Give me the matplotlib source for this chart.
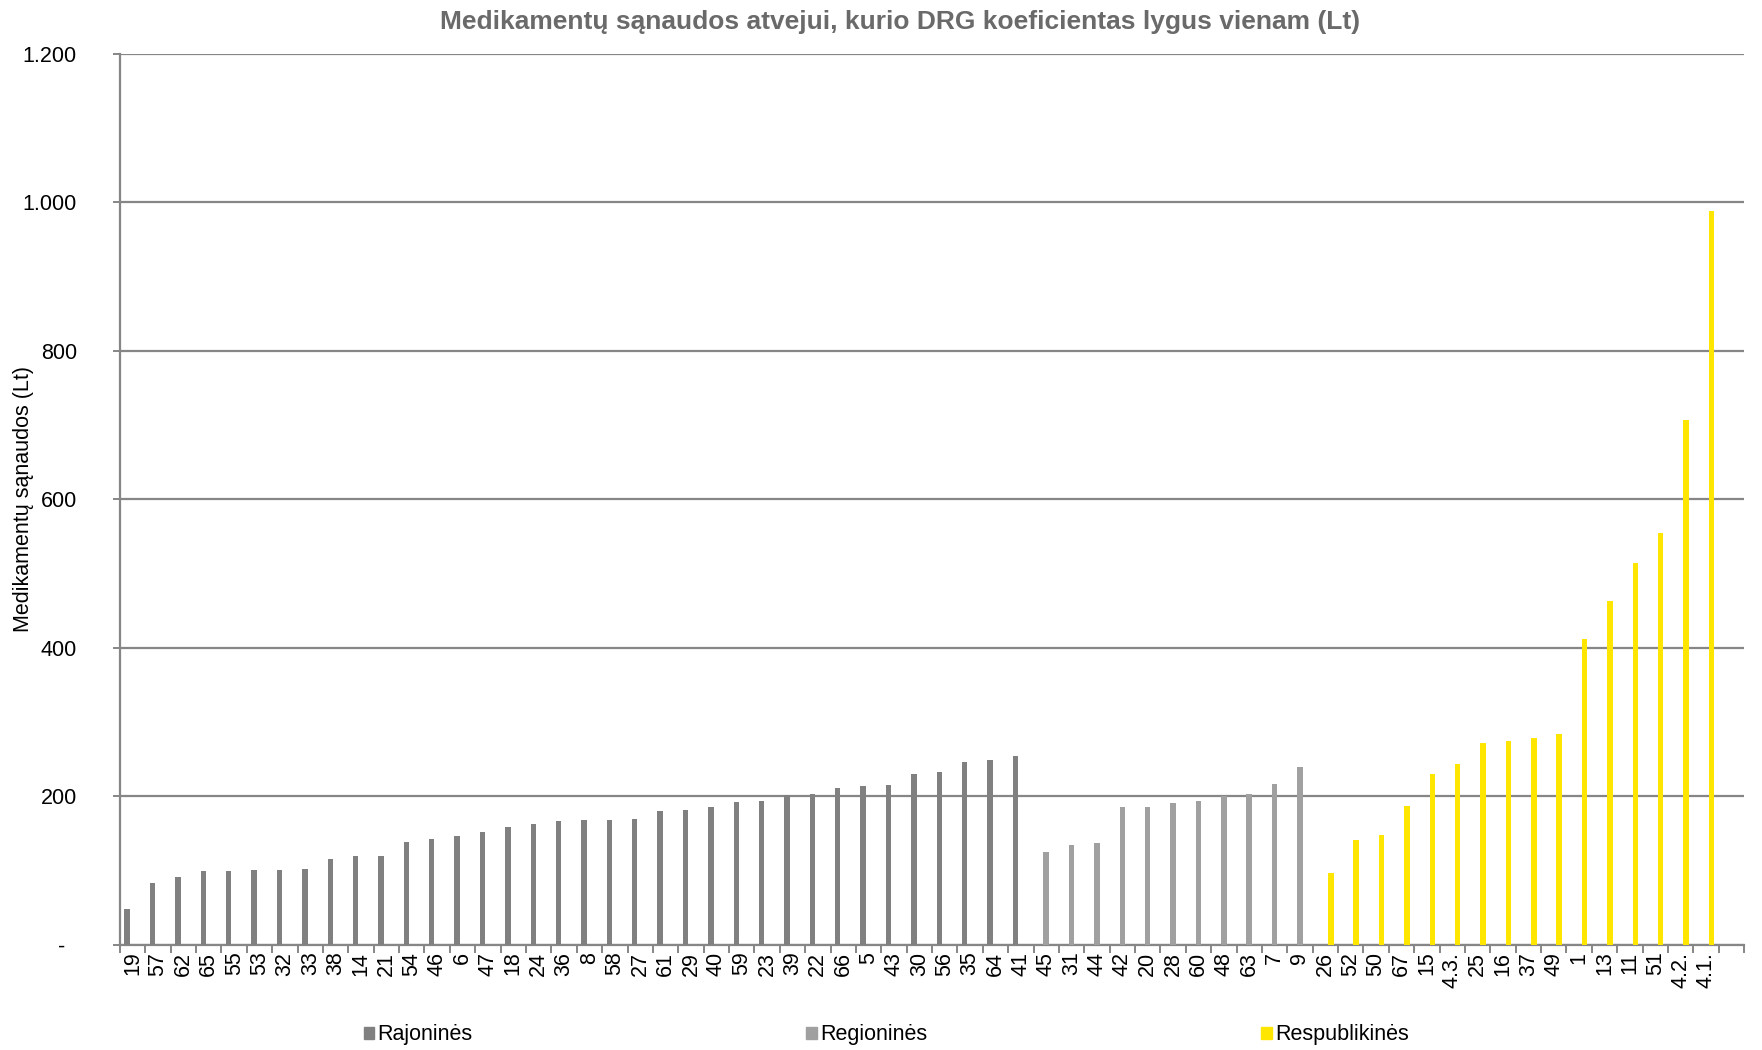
import numpy as np
import matplotlib.pyplot as plt
from matplotlib.patches import Patch

plt.rcParams['font.family'] = ['Liberation Sans', 'DejaVu Sans']

# data
rajonines_labels = ['19', '57', '62', '65', '55', '53', '32', '33', '38', '14', '21', '54',
                    '46', '6', '47', '18', '24', '36', '8', '58', '27', '61', '29', '40',
                    '59', '23', '39', '22', '66', '5', '43', '30', '56', '35', '64', '41']
rajonines_values = [48, 83, 91, 99, 99, 100, 101, 102, 115, 119, 120, 139,
                    142, 146, 152, 158, 162, 167, 168, 168, 170, 180, 182, 185,
                    192, 194, 202, 203, 211, 214, 215, 230, 232, 246, 249, 254]

regionines_labels = ['45', '31', '44', '42', '20', '28', '60', '48', '63', '7', '9']
regionines_values = [125, 134, 137, 186, 186, 191, 194, 200, 203, 217, 239]

respublikines_labels = ['26', '52', '50', '67', '15', '4.3.', '25', '16', '37', '49',
                        '1', '13', '11', '51', '4.2.', '4.1.']
respublikines_values = [96, 141, 148, 187, 230, 243, 272, 275, 279, 284,
                        412, 463, 514, 555, 707, 989]

series_names = ['Rajoninės', 'Regioninės', 'Respublikinės']
colors = ['#808080', '#a0a0a0', '#ffe600']

categories = rajonines_labels + regionines_labels + respublikines_labels + ['']

n1 = len(rajonines_labels)
n2 = len(regionines_labels)
n3 = len(respublikines_labels)
x1 = np.arange(n1)
x2 = np.arange(n1, n1 + n2)
x3 = np.arange(n1 + n2, n1 + n2 + n3)

fs = 15.5

fig = plt.figure(figsize=(17.62, 10.5), dpi=100)
ax = fig.add_axes([0.0681, 0.1003, 0.9217, 0.8483])

w = 0.215
ax.bar(x1 - w, rajonines_values, width=w, color=colors[0], zorder=3)
ax.bar(x2, regionines_values, width=w, color=colors[1], zorder=3)
ax.bar(x3 + w, respublikines_values, width=w, color=colors[2], zorder=3)

ax.set_xlim(-0.5, len(categories) - 0.5)
ax.set_ylim(0, 1200)

yt = [0, 200, 400, 600, 800, 1000, 1200]
ax.set_yticks(yt)
ax.set_yticklabels(['-  ', '200', '400', '600', '800', '1.000', '1.200'], fontsize=fs)
ax.yaxis.grid(True, color='#868686', linewidth=1.6, zorder=0)
ax.tick_params(axis='y', length=5, width=1.4, color='#868686', pad=26)

ax.set_xticks(np.arange(len(categories)))
ax.set_xticklabels(categories, rotation=90, fontsize=fs)
ax.set_xticks(np.arange(len(categories) + 1) - 0.5, minor=True)
ax.tick_params(axis='x', which='major', length=0, pad=5)
ax.tick_params(axis='x', which='minor', length=6, width=1.4, color='#868686')

for s in ['top', 'right']:
    ax.spines[s].set_visible(False)
for s in ['left', 'bottom']:
    ax.spines[s].set_color('#868686')
    ax.spines[s].set_linewidth(1.6)

ax.set_ylabel('Medikamentų sąnaudos (Lt)', fontsize=fs)
ax.yaxis.set_label_coords(-0.053, 0.5)
fig.text(0.511, 0.979, 'Medikamentų sąnaudos atvejui, kurio DRG koeficientas lygus vienam (Lt)',
         ha='center', va='center', fontsize=19, fontweight='bold', color='#6a6a6a')

handles = [Patch(color=c) for c in colors]
fig.legend(handles, series_names, loc='center', bbox_to_anchor=(0.503, 0.0143), ncol=3,
           frameon=False, fontsize=fs, handlelength=0.5, handleheight=0.5,
           handletextpad=0.15, columnspacing=15.5)

fig.savefig('out.png', dpi=100)
